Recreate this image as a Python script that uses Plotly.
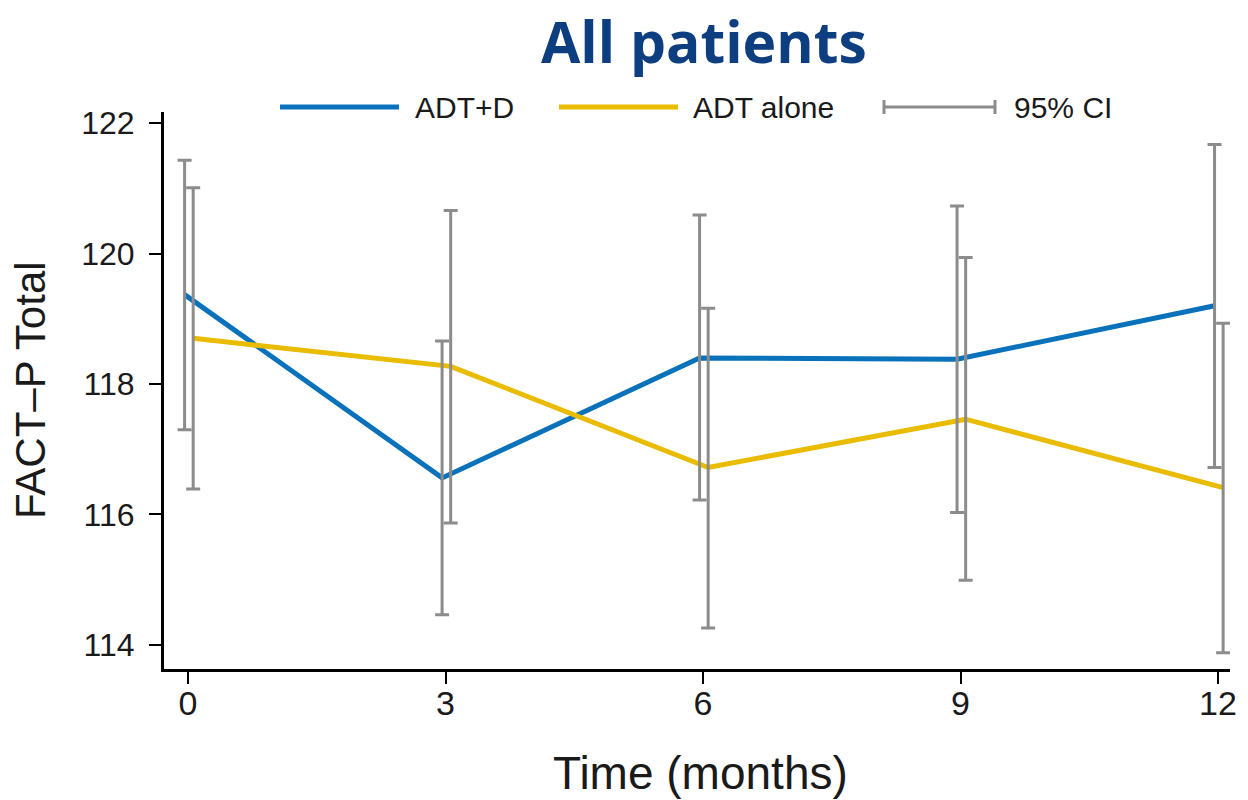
import plotly.graph_objects as go

# FACT-P Total score by visit, mean with 95% confidence limits
months = [0, 3, 6, 9, 12]

adt_d_mean = [119.37, 116.56, 118.40, 118.38, 119.20]
adt_d_low = [117.30, 114.46, 116.22, 116.03, 116.72]
adt_d_high = [121.43, 118.66, 120.59, 120.73, 121.67]

adt_alone_mean = [118.70, 118.27, 116.72, 117.46, 116.41]
adt_alone_low = [116.39, 115.87, 114.26, 114.99, 113.88]
adt_alone_high = [121.01, 120.66, 119.16, 119.94, 118.93]

y_ticks = [114, 116, 118, 120, 122]

BLUE = "#0A72BA"
GOLD = "#E9BC00"
GREY = "#8C8C8C"
TITLE_BLUE = "#0D3F80"
INK = "#1a1a1a"
SANS = "Liberation Sans, Arial, sans-serif"

# small horizontal dodge so the two groups' intervals don't overlap
x_adt_d = [m - 0.04 for m in months]
x_adt_alone = [m + 0.06 for m in months]

# plot area in pixels
W, H = 1248, 800
ML, MR, MT, MB = 164, 18, 112, 131
PW, PH = W - ML - MR, H - MT - MB


def px(x):
    return (x - ML) / PW


def py(y):
    return (H - MB - y) / PH


fig = go.Figure()

fig.add_trace(go.Scatter(x=x_adt_d, y=adt_d_mean, mode="lines",
                         line=dict(color=BLUE, width=5), name="ADT+D"))
fig.add_trace(go.Scatter(x=x_adt_alone, y=adt_alone_mean, mode="lines",
                         line=dict(color=GOLD, width=5), name="ADT alone"))


def ci_trace(xs, mean, low, high):
    return go.Scatter(
        x=xs, y=mean, mode="markers",
        marker=dict(size=1, color="rgba(0,0,0,0)"),
        error_y=dict(type="data", symmetric=False,
                     array=[h - m for h, m in zip(high, mean)],
                     arrayminus=[m - l for m, l in zip(mean, low)],
                     color=GREY, thickness=3, width=7),
        hoverinfo="skip", showlegend=False)


fig.add_trace(ci_trace(x_adt_d, adt_d_mean, adt_d_low, adt_d_high))
fig.add_trace(ci_trace(x_adt_alone, adt_alone_mean, adt_alone_low, adt_alone_high))

# legend row above the plot
LEG_Y = 107
shapes = [
    dict(type="line", xref="paper", yref="paper", x0=px(280), x1=px(399),
         y0=py(LEG_Y), y1=py(LEG_Y), line=dict(color=BLUE, width=5)),
    dict(type="line", xref="paper", yref="paper", x0=px(559), x1=px(678),
         y0=py(LEG_Y), y1=py(LEG_Y), line=dict(color=GOLD, width=5)),
    dict(type="line", xref="paper", yref="paper", x0=px(883), x1=px(996),
         y0=py(LEG_Y), y1=py(LEG_Y), line=dict(color=GREY, width=3)),
    dict(type="line", xref="paper", yref="paper", x0=px(884), x1=px(884),
         y0=py(LEG_Y - 7), y1=py(LEG_Y + 7), line=dict(color=GREY, width=3)),
    dict(type="line", xref="paper", yref="paper", x0=px(995), x1=px(995),
         y0=py(LEG_Y - 7), y1=py(LEG_Y + 7), line=dict(color=GREY, width=3)),
]

LEG_FONT = dict(family=SANS, size=30, color=INK)
annotations = [
    dict(text="ADT+D", x=px(413), y=py(LEG_Y), xref="paper", yref="paper",
         xanchor="left", yanchor="middle", showarrow=False, font=LEG_FONT),
    dict(text="ADT alone", x=px(691), y=py(LEG_Y), xref="paper", yref="paper",
         xanchor="left", yanchor="middle", showarrow=False, font=LEG_FONT),
    dict(text="95% CI", x=px(1012), y=py(LEG_Y), xref="paper", yref="paper",
         xanchor="left", yanchor="middle", showarrow=False, font=LEG_FONT),
    dict(text="<b>All patients</b>", x=px(704), y=py(0), xref="paper", yref="paper",
         xanchor="center", yanchor="top", showarrow=False,
         font=dict(family="Open Sans, sans-serif", size=57, color=TITLE_BLUE)),
    dict(text="Time (months)", x=px(700), y=py(773), xref="paper", yref="paper",
         xanchor="center", yanchor="middle", showarrow=False,
         font=dict(family=SANS, size=46, color=INK)),
    dict(text="FACT\u2013P Total", x=px(30), y=py(390), xref="paper", yref="paper",
         xanchor="center", yanchor="middle", textangle=-90, showarrow=False,
         font=dict(family=SANS, size=42, color=INK)),
]

fig.update_layout(
    width=W, height=H,
    margin=dict(l=ML, r=MR, t=MT, b=MB, pad=0),
    paper_bgcolor="white", plot_bgcolor="white",
    showlegend=False,
    shapes=shapes,
    annotations=annotations,
)

fig.update_xaxes(
    range=[-0.28, 12.14], tickvals=months, ticktext=[str(m) for m in months],
    showgrid=False, zeroline=False,
    showline=True, linecolor="black", linewidth=3,
    ticks="outside", ticklen=12, tickwidth=2, tickcolor="black",
    tickfont=dict(family=SANS, size=34, color=INK),
    ticklabelstandoff=-10,
)
fig.update_yaxes(
    range=[113.63, 122.17], tickvals=y_ticks,
    showgrid=False, zeroline=False,
    showline=True, linecolor="black", linewidth=3,
    ticks="outside", ticklen=12, tickwidth=2, tickcolor="black",
    tickfont=dict(family=SANS, size=32, color=INK),
    ticklabelstandoff=8,
)

fig.write_html("out.html")
